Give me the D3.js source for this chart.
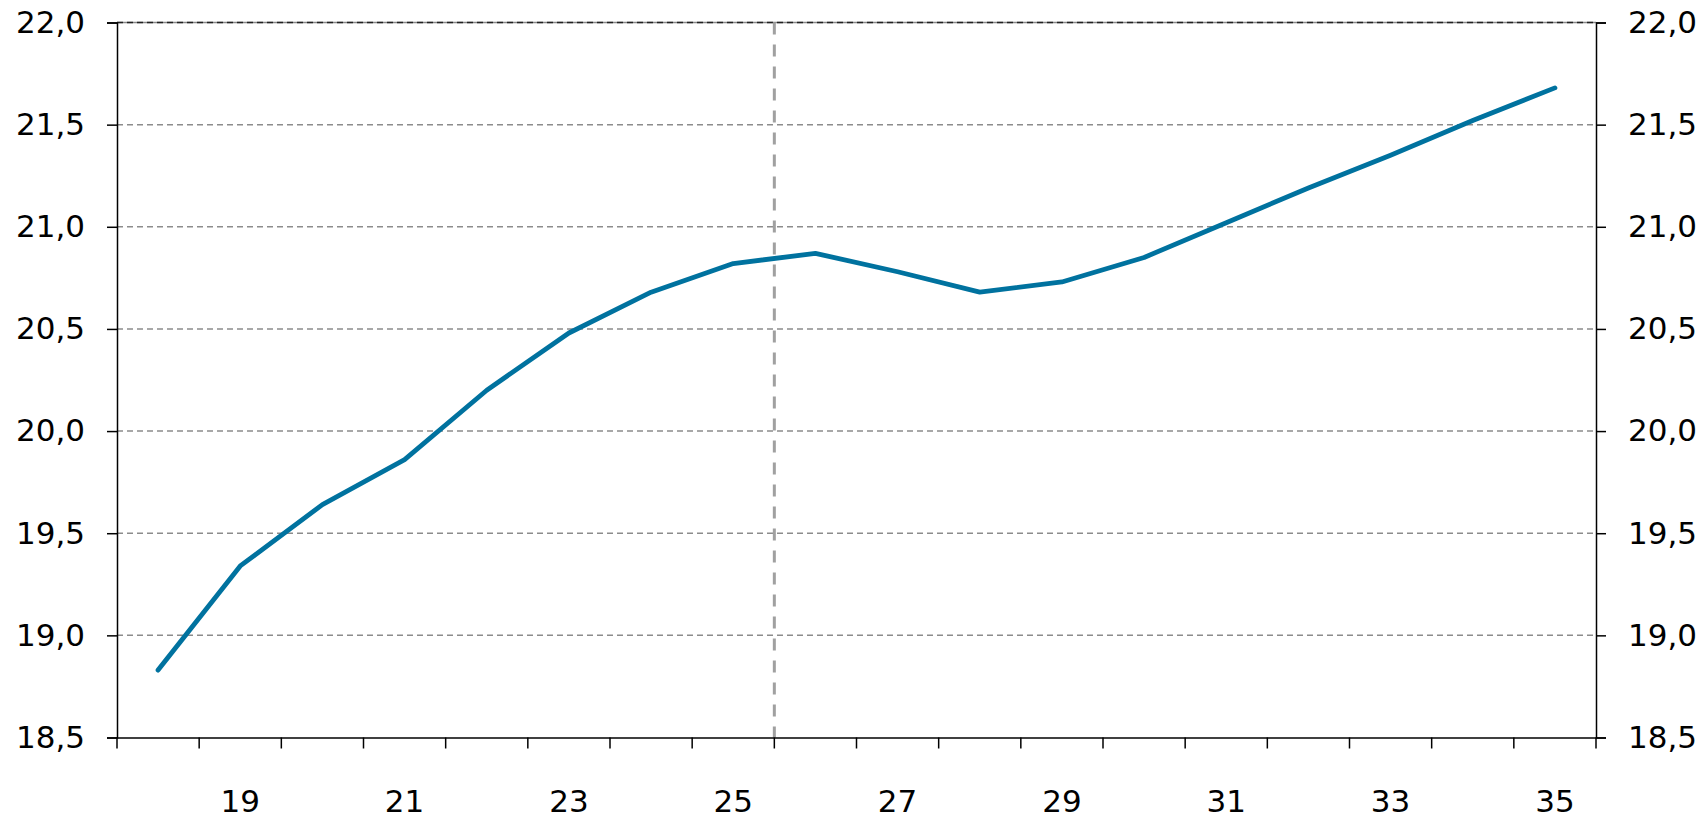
<!DOCTYPE html>
<html>
<head>
<meta charset="utf-8">
<script src="https://cdn.jsdelivr.net/npm/d3@7"></script>
<style>
  body { margin: 0; background: #fff; }
  svg text { font-family: "DejaVu Sans", Verdana, sans-serif; fill: #000; }
</style>
</head>
<body>
<svg width="1708" height="819"></svg>
<script>
// Data
const years = [18, 19, 20, 21, 22, 23, 24, 25, 26, 27, 28, 29, 30, 31, 32, 33, 34, 35];
const values = [18.83, 19.34, 19.64, 19.86, 20.20, 20.48, 20.68, 20.82, 20.87, 20.78, 20.68, 20.73, 20.85, 21.02, 21.19, 21.35, 21.52, 21.68];
const yTicks = [18.5, 19.0, 19.5, 20.0, 20.5, 21.0, 21.5, 22.0];
const xLabelYears = [19, 21, 23, 25, 27, 29, 31, 33, 35];
const markerAfter = 25; // vertical dashed line between 25 and 26

const svg = d3.select("svg"),
    margin = { top: 22.5, right: 112, bottom: 81.5, left: 117 },
    width = +svg.attr("width") - margin.left - margin.right,
    height = +svg.attr("height") - margin.top - margin.bottom,
    g = svg.append("g").attr("transform", `translate(${margin.left},${margin.top})`);

const x = d3.scaleBand().domain(years).range([0, width]).padding(0),
    y = d3.scaleLinear().domain([18.5, 22.0]).range([height, 0]);

const fmt = d => d3.format(".1f")(d).replace(".", ",");

// horizontal gridlines
g.append("g").selectAll("line")
    .data(yTicks.filter(d => d > 18.5 && d < 22))
    .enter().append("line")
    .attr("x1", 0).attr("x2", width)
    .attr("y1", d => y(d)).attr("y2", d => y(d))
    .attr("stroke", "#8c8c8c")
    .attr("stroke-width", 1.5)
    .attr("stroke-dasharray", "6,4");

// top line
g.append("line")
    .attr("x1", 0).attr("x2", width)
    .attr("y1", y(22)).attr("y2", y(22))
    .attr("stroke", "#888").attr("stroke-width", 1.5);
g.append("line")
    .attr("x1", 0).attr("x2", width)
    .attr("y1", y(22)).attr("y2", y(22))
    .attr("stroke", "#222").attr("stroke-width", 1.5)
    .attr("stroke-dasharray", "6,4");

// vertical dashed marker
const mx = x(markerAfter) + x.bandwidth();
g.append("line")
    .attr("x1", mx).attr("x2", mx)
    .attr("y1", 0).attr("y2", height)
    .attr("stroke", "#a0a0a0")
    .attr("stroke-width", 3)
    .attr("stroke-dasharray", "12,10");

// axes
const yLeft = g.append("g")
    .call(d3.axisLeft(y).tickValues(yTicks).tickFormat(fmt).tickSize(10).tickPadding(22));
const yRight = g.append("g")
    .attr("transform", `translate(${width},0)`)
    .call(d3.axisRight(y).tickValues(yTicks).tickFormat(fmt).tickSize(10).tickPadding(22));

const xAxis = g.append("g")
    .attr("transform", `translate(0,${height})`)
    .call(d3.axisBottom(x).tickValues([]).tickSizeOuter(0));

// bottom ticks between categories
const boundaries = years.map(d => x(d)).concat([width]);
xAxis.selectAll(".bound")
    .data(boundaries)
    .enter().append("line")
    .attr("class", "bound")
    .attr("x1", d => d).attr("x2", d => d)
    .attr("y1", 0).attr("y2", 11)
    .attr("stroke", "#000").attr("stroke-width", 1.5);

xAxis.selectAll(".lbl")
    .data(xLabelYears)
    .enter().append("text")
    .attr("class", "lbl")
    .attr("x", d => x(d) + x.bandwidth() / 2)
    .attr("y", 74)
    .attr("text-anchor", "middle")
    .style("font-size", "31px")
    .text(d => d);

[yLeft, yRight, xAxis].forEach(a => {
    a.select(".domain").attr("stroke", "#000").attr("stroke-width", 1.5);
    a.selectAll(".tick line").attr("stroke", "#000").attr("stroke-width", 1.5);
    a.selectAll(".tick text").style("font-size", "31px").attr("fill", "#000");
});

// series line
const line = d3.line()
    .x((d, i) => x(years[i]) + x.bandwidth() / 2)
    .y(d => y(d));

g.append("path")
    .datum(values)
    .attr("fill", "none")
    .attr("stroke", "#00729f")
    .attr("stroke-width", 4.8)
    .attr("stroke-linejoin", "round")
    .attr("stroke-linecap", "round")
    .attr("d", line);
</script>
</body>
</html>
